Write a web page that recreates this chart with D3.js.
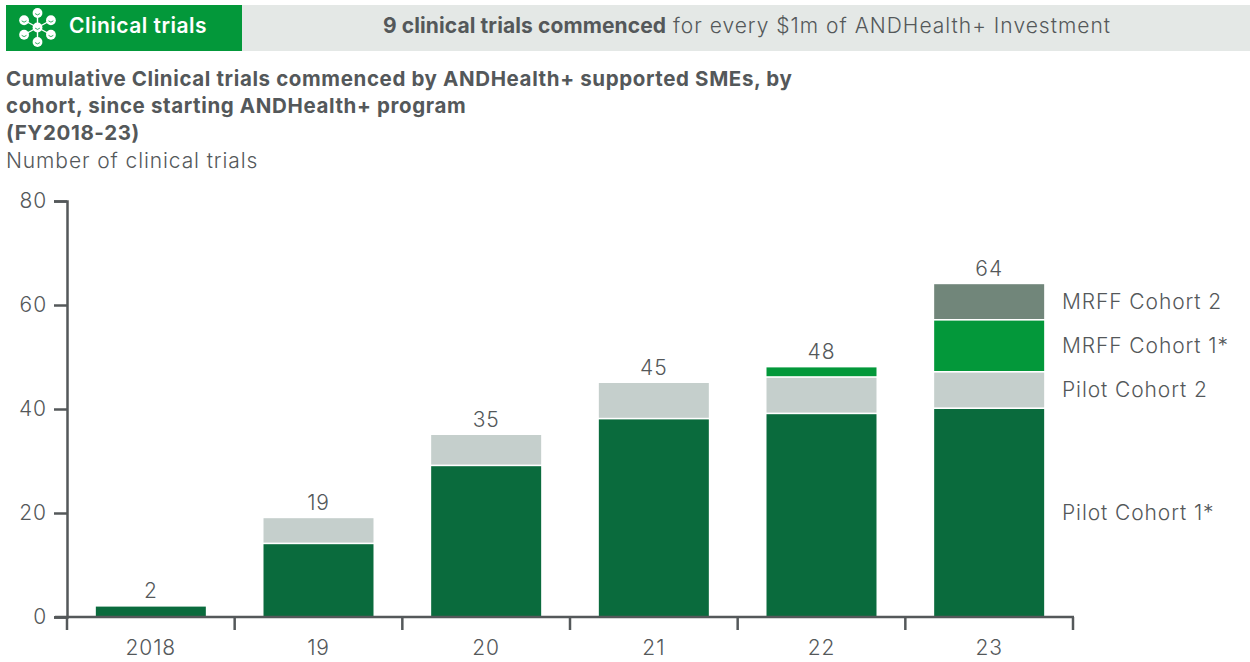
<!DOCTYPE html>
<html>
<head>
<meta charset="utf-8">
<script src="https://cdn.jsdelivr.net/npm/d3@7"></script>
<style>
  html, body { margin: 0; padding: 0; background: #fff; }
  svg { display: block; }
  text { font-family: Inter, Lato, sans-serif; fill: #54585a; }
</style>
</head>
<body>
<div id="chart"></div>
<script>
var years = ["2018", "19", "20", "21", "22", "23"];
var cohorts = ["Pilot Cohort 1*", "Pilot Cohort 2", "MRFF Cohort 1*", "MRFF Cohort 2"];
var pilot1 = [2, 14, 29, 38, 39, 40];
var pilot2 = [0, 5, 6, 7, 7, 7];
var mrff1 = [0, 0, 0, 0, 2, 10];
var mrff2 = [0, 0, 0, 0, 0, 7];
var totals = [2, 19, 35, 45, 48, 64];
var yTicks = [0, 20, 40, 60, 80];
var colors = ["#0a6b3d", "#c5cfcc", "#03983a", "#71867a"];
var titleLines = [
  "Cumulative Clinical trials commenced by ANDHealth+ supported SMEs, by",
  "cohort, since starting ANDHealth+ program",
  "(FY2018-23)"
];

var svg = d3.select("#chart").append("svg")
  .attr("width", 1250)
  .attr("height", 662);

// header band
svg.append("rect").attr("x", 6).attr("y", 5).attr("width", 1244).attr("height", 46).attr("fill", "#e4e8e6");
svg.append("rect").attr("x", 6).attr("y", 5).attr("width", 236).attr("height", 46).attr("fill", "#03983a");

svg.append("text")
  .attr("x", 69).attr("y", 33)
  .style("font-size", "21px").style("font-weight", 600).style("letter-spacing", "0.5px").style("fill", "#fff")
  .text("Clinical trials");

var headline = svg.append("text")
  .attr("x", 747).attr("y", 33)
  .attr("text-anchor", "middle")
  .style("font-size", "21px");
headline.append("tspan").style("font-weight", 700).style("letter-spacing", "0.1px").text("9 clinical trials commenced");
headline.append("tspan").style("font-weight", 300).style("letter-spacing", "1px").text(" for every $1m of ANDHealth+ Investment");

// little network icon, each node is a small face
var icon = svg.append("g").attr("transform", "translate(37.5,27.5)");
var spokes = d3.range(6).map(function (i) {
  var a = Math.PI / 2 + i * Math.PI / 3;
  return [Math.cos(a) * 15.5, -Math.sin(a) * 14.5];
});
icon.selectAll("line").data(spokes).enter().append("line")
  .attr("x1", 0).attr("y1", 0)
  .attr("x2", function (d) { return d[0]; })
  .attr("y2", function (d) { return d[1]; })
  .attr("stroke", "#fff").attr("stroke-width", 1.4);
var nodes = icon.selectAll(".node").data(spokes.concat([[0, 0]])).enter().append("g")
  .attr("class", "node")
  .attr("transform", function (d) { return "translate(" + d[0] + "," + d[1] + ")"; });
nodes.append("circle").attr("r", 4.9).attr("fill", "#fff");
nodes.append("path").attr("d", "M-2.4,0.6 Q0,3.2 2.4,0.6")
  .attr("fill", "none").attr("stroke", "#03983a").attr("stroke-width", 0.8);

// title
svg.selectAll(".title").data(titleLines).enter().append("text")
  .attr("class", "title")
  .attr("x", 6)
  .attr("y", function (d, i) { return 86 + i * 27; })
  .style("font-size", "20.5px").style("font-weight", 700).style("letter-spacing", "0.62px")
  .text(function (d) { return d; });

svg.append("text")
  .attr("x", 6).attr("y", 168)
  .style("font-size", "21px").style("font-weight", 300).style("letter-spacing", "0.9px")
  .text("Number of clinical trials");

// scales
var x = d3.scaleBand().domain(years).range([67, 1073]).paddingInner(0.344).paddingOuter(0.172);
var y = d3.scaleLinear().domain([0, 80]).range([617, 201]);
var gap = 1.6;

var rows = years.map(function (year, i) {
  return { year: year, "Pilot Cohort 1*": pilot1[i], "Pilot Cohort 2": pilot2[i], "MRFF Cohort 1*": mrff1[i], "MRFF Cohort 2": mrff2[i] };
});
var stacked = d3.stack().keys(cohorts)(rows);

// bars, with a thin white gap under every upper segment
var layers = svg.selectAll(".layer").data(stacked).enter().append("g")
  .attr("class", "layer")
  .attr("fill", function (d, i) { return colors[i]; });

layers.selectAll("rect")
  .data(function (d) { return d.filter(function (s) { return s[1] > s[0]; }); })
  .enter().append("rect")
  .attr("x", function (d) { return x(d.data.year); })
  .attr("y", function (d) { return y(d[1]); })
  .attr("width", x.bandwidth())
  .attr("height", function (d) { return y(d[0]) - y(d[1]) - (d[0] > 0 ? gap : 0); });

// totals
svg.selectAll(".total").data(totals).enter().append("text")
  .attr("class", "total")
  .attr("x", function (d, i) { return x(years[i]) + x.bandwidth() / 2; })
  .attr("y", function (d) { return y(d) - 8.5; })
  .attr("text-anchor", "middle")
  .style("font-size", "21px").style("font-weight", 300).style("letter-spacing", "0.9px")
  .text(function (d) { return d; });

// cohort labels next to last bar
var last = stacked.map(function (s) { return s[s.length - 1]; });
svg.selectAll(".cohort").data(cohorts).enter().append("text")
  .attr("class", "cohort")
  .attr("x", 1062)
  .attr("y", function (d, i) { return y((last[i][0] + last[i][1]) / 2) + 6.5; })
  .style("font-size", "21px").style("font-weight", 300).style("letter-spacing", "0.9px")
  .text(function (d) { return d; });

// axes
var yAxis = d3.axisLeft(y).tickValues(yTicks).tickSize(13).tickPadding(7);
var gy = svg.append("g").attr("transform", "translate(67,0)").call(yAxis);
gy.select(".domain").attr("stroke", "#54585a").attr("stroke-width", 2.5);
gy.selectAll(".tick line").attr("stroke", "#54585a").attr("stroke-width", 2.5);
gy.selectAll(".tick text").style("font-size", "21px").style("font-family", "Inter").style("font-weight", 300)
  .style("letter-spacing", "0.9px").style("fill", "#54585a");

svg.append("line").attr("x1", 55).attr("x2", 1074).attr("y1", y(0)).attr("y2", y(0))
  .attr("stroke", "#54585a").attr("stroke-width", 2.5);

var edges = years.map(function (d) { return x(d) - x.step() * x.paddingOuter(); }).concat([1073]);
svg.selectAll(".xtick").data(edges).enter().append("line")
  .attr("class", "xtick")
  .attr("x1", function (d) { return d; })
  .attr("x2", function (d) { return d; })
  .attr("y1", y(0)).attr("y2", 630)
  .attr("stroke", "#54585a").attr("stroke-width", 2.5);

svg.selectAll(".xlabel").data(years).enter().append("text")
  .attr("class", "xlabel")
  .attr("x", function (d) { return x(d) + x.bandwidth() / 2; })
  .attr("y", 655)
  .attr("text-anchor", "middle")
  .style("font-size", "21px").style("font-weight", 300).style("letter-spacing", "0.9px")
  .text(function (d) { return d; });
</script>
</body>
</html>
